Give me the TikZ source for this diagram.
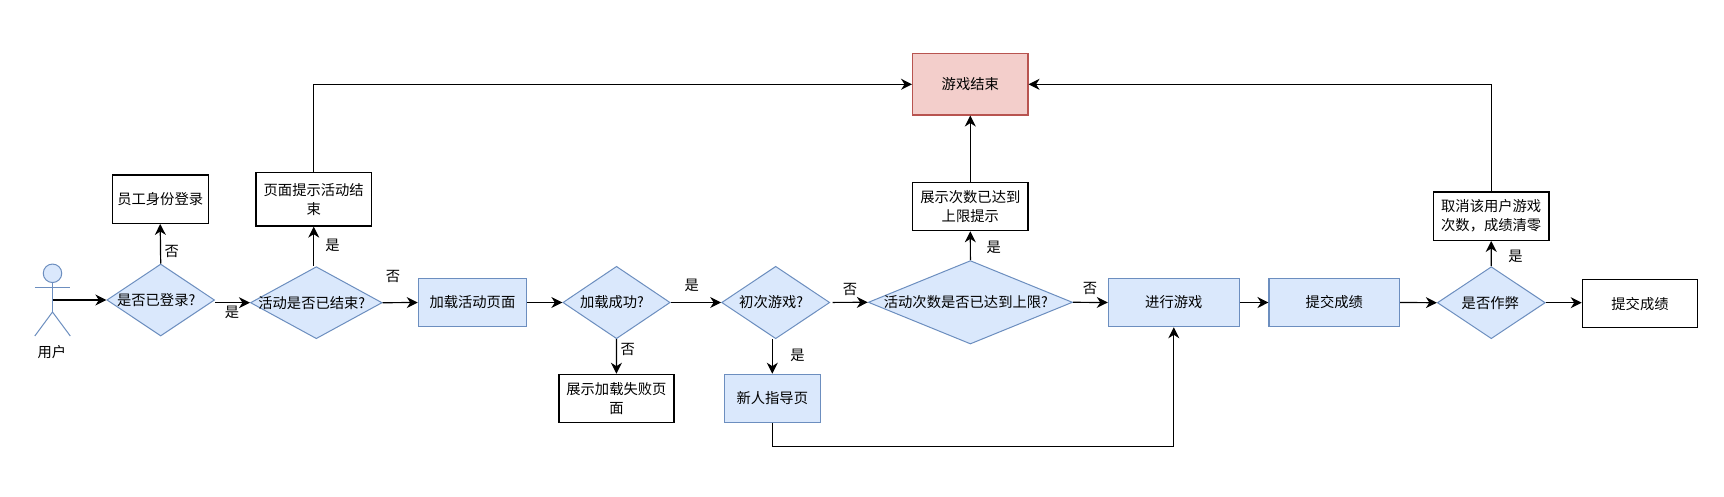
\documentclass[tikz,border=0pt]{standalone}
\usepackage{fontspec}
\setmainfont{Noto Sans CJK SC}
\usetikzlibrary{shapes.geometric,arrows.meta}
\definecolor{bfill}{HTML}{DAE8FC}
\definecolor{bline}{HTML}{6C8EBF}
\definecolor{rfill}{HTML}{F3CECB}
\definecolor{rline}{HTML}{B85450}
\newcommand{\dtext}[2][-9pt]{\hspace*{#1}\raisebox{-.38em}[0pt][0pt]{\makebox[0pt]{#2}}}
\tikzset{
  txt/.style={font=\fontsize{14.3}{19}\selectfont,text=black,align=center,inner sep=0pt},
  plainbox/.style={txt,draw=black,line width=1.2pt,fill=white,rectangle},
  bluebox/.style={txt,draw=bline,line width=1.2pt,fill=bfill,rectangle},
  redbox/.style={txt,draw=rline,line width=1.2pt,fill=rfill,rectangle},
  decide/.style={txt,draw=bline,line width=1pt,fill=bfill,diamond},
  tag/.style={txt},
  link/.style={draw=black,line width=1.2pt,-{Stealth[length=11pt,width=11pt,inset=3.5pt]}},
  limb/.style={draw=bline,line width=1pt},
  sz/.style 2 args={minimum width=#1pt,minimum height=#2pt}
}
\begin{document}
\begin{tikzpicture}[x=1pt,y=-1pt]
\useasboundingbox[fill=white] (0,0) rectangle (1724,496);

% actor
\node[draw=bline,line width=1pt,fill=bfill,circle,minimum size=18.5pt,inner sep=0pt] (head) at (52.5,273.3) {};
\coordinate (armL) at (34.8,287.7);
\coordinate (armR) at (70.3,287.7);
\coordinate (hip) at (52.5,312);
\coordinate (legL) at (34.8,336);
\coordinate (legR) at (70.3,336);
\coordinate (chest) at (52.5,300);
\draw[limb] (head.south) -- (hip);
\draw[limb] (armL) -- (armR);
\draw[limb] (legL) -- (hip) -- (legR);
\node[tag] (user) at (51.8,351.7) {用户};

% decisions
\node[decide,sz={107.7}{72}] (d1) at (160.7,300) {\dtext{是否已登录?}};
\node[decide,sz={131.7}{72}] (d2) at (316.3,302.7) {\dtext{活动是否已结束?}};
\node[decide,sz={107.3}{72.4}] (d3) at (616.5,302.5) {\dtext{加载成功?}};
\node[decide,sz={108.1}{72.4}] (d4) at (775.7,302.5) {\dtext{初次游戏?}};
\node[decide,sz={204.2}{83.4}] (d5) at (970.4,302.3) {\dtext{活动次数是否已达到上限?}};
\node[decide,sz={107.9}{72}] (d6) at (1491.3,302.7) {\dtext[-2pt]{是否作弊}};

% boxes
\node[plainbox,sz={96.2}{48.3}] (login) at (160.2,199.2) {员工身份登录};
\node[plainbox,sz={115.4}{53.3}] (over) at (313.7,199.4) {页面提示活动结\\束};
\node[bluebox,sz={108.1}{48.4}] (load) at (472.4,302.5) {加载活动页面};
\node[plainbox,sz={115}{48.4}] (fail) at (616.4,398.5) {展示加载失败页\\面};
\node[bluebox,sz={96.2}{48.4}] (guide) at (772.3,398.5) {新人指导页};
\node[bluebox,sz={130.9}{48.4}] (play) at (1173.8,302.5) {进行游戏};
\node[bluebox,sz={130.5}{48.4}] (submit) at (1334.3,302.5) {提交成绩};
\node[plainbox,sz={115.4}{48}] (done) at (1640,303.7) {提交成绩};
\node[plainbox,sz={115.4}{48.3}] (cheat) at (1491.2,216.2) {取消该用户游戏\\次数，成绩清零};
\node[plainbox,sz={115.3}{48}] (limit) at (970.3,206.7) {展示次数已达到\\上限提示};
\node[redbox,sz={115.3}{61.3}] (end) at (970.3,84.3) {游戏结束};

% connectors
\draw[link] (chest) -- (d1.west);
\draw[link] (d1.north) -- (login.south);
\draw[link] (d1.east |- d2.west) -- (d2.west);
\draw[link] (d2.north -| over.south) -- (over.south);
\draw[link] (over.north) |- (end.west);
\draw[link] (d2.east) -- (load.west);
\draw[link] (load.east) -- (d3.west);
\draw[link] (d3.east) -- (d4.west);
\draw[link] (d3.south) -- (fail.north);
\draw[link] (d4.south -| guide.north) -- (guide.north);
\coordinate (d4out) at (832.6,302.4);
\draw[link] (d4out) -- (d5.west);
\draw[link] (d5.north) -- (limit.south);
\draw[link] (limit.north) -- (end.south);
\draw[link] (d5.east) -- (play.west);
\coordinate (turn) at (772.3,446.3);
\draw[link] (guide.south) -- (turn) -| (play.south);
\draw[link] (play.east) -- (submit.west);
\draw[link] (submit.east) -- (d6.west);
\draw[link] (d6.east) -- (d6.east -| done.west);
\draw[link] (d6.north) -- (cheat.south);
\draw[link] (cheat.north) |- (end.east);

% branch labels
\node[tag] (l1) at (171.7,251) {否};
\node[tag] (l2) at (232,312.7) {是};
\node[tag] (l3) at (332.6,245) {是};
\node[tag] (l4) at (392.9,276) {否};
\node[tag] (l5) at (691.7,285.7) {是};
\node[tag] (l6) at (627.7,349) {否};
\node[tag] (l7) at (797.5,355) {是};
\node[tag] (l8) at (850,289) {否};
\node[tag] (l9) at (993.7,247.3) {是};
\node[tag] (l10) at (1090,288.5) {否};
\node[tag] (l11) at (1515.4,256.7) {是};
\end{tikzpicture}
\end{document}
